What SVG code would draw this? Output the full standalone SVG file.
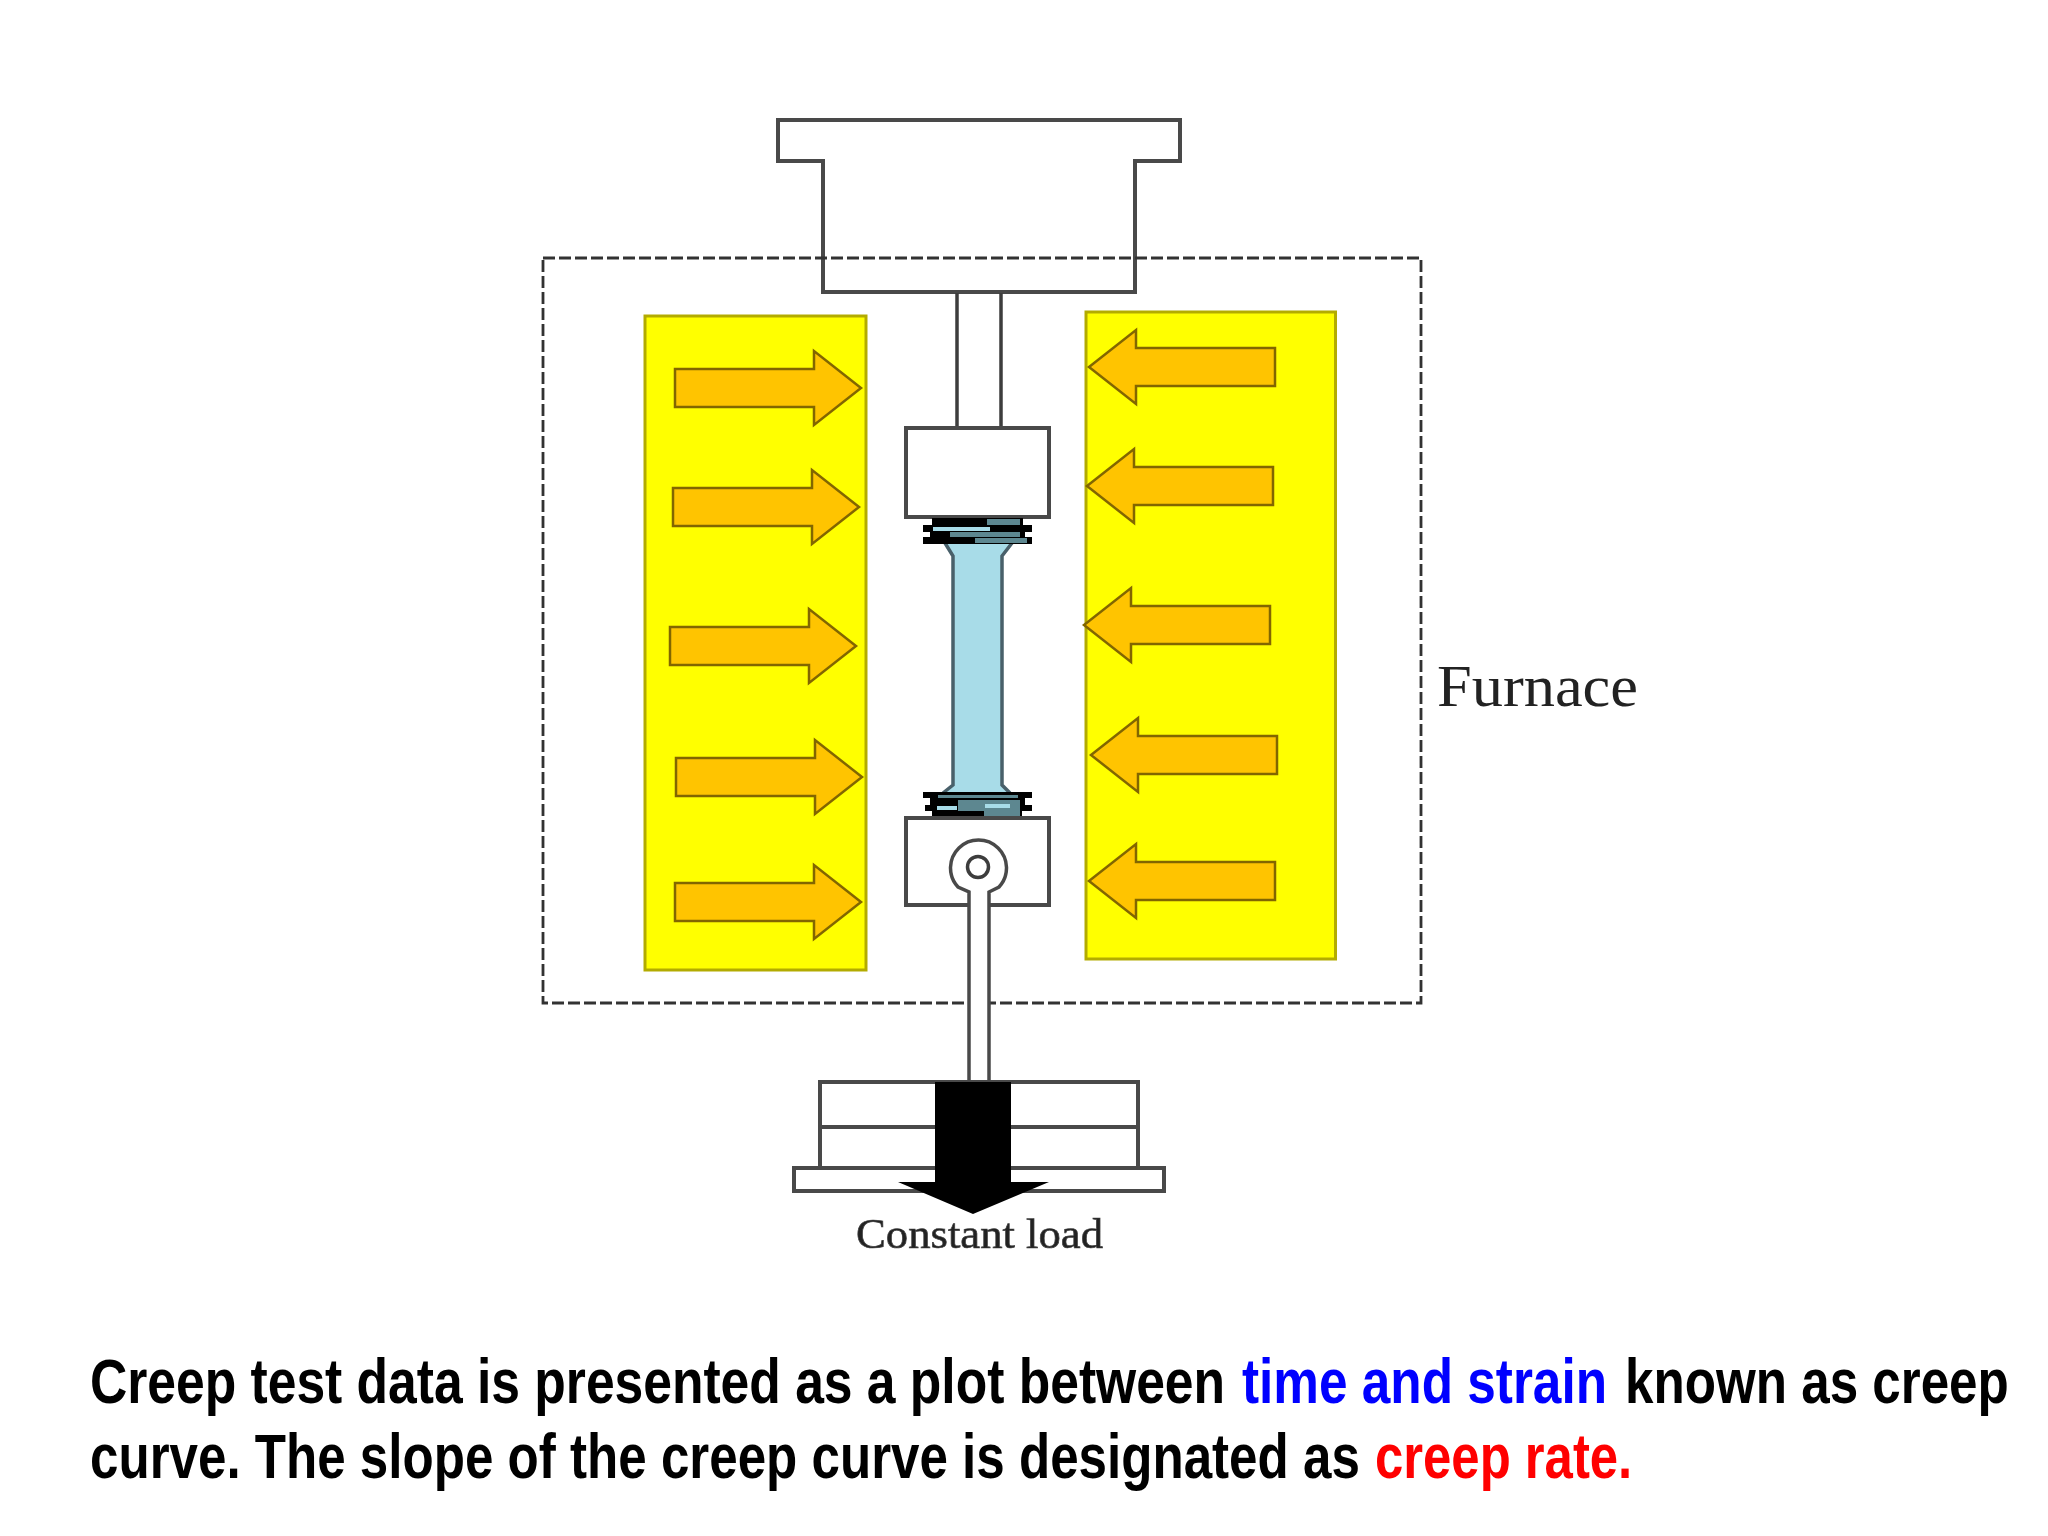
<svg xmlns="http://www.w3.org/2000/svg" width="2048" height="1536" viewBox="0 0 2048 1536">
<style>
.part{fill:#fff;stroke:#4a4a4a;stroke-width:4}
.dark{fill:none;stroke:#3c3c3c;stroke-width:3.500}
.heater{fill:#ffff00;stroke:#b3ab00;stroke-width:3}
.arrow{fill:#ffc400;stroke:#826600;stroke-width:2.500;stroke-linejoin:miter}
.serif{font-family:"Liberation Serif","Times New Roman",serif;fill:#222}
.cap{font-family:"Liberation Sans",Arial,sans-serif;font-weight:700;font-size:63px;fill:#000}
.b{fill:#000}.t{fill:#5d8790}.l{fill:#a8dce8}.d{fill:#2c3f44}
</style>
<defs>
<path id="ar" d="M0-19H139V-37L186 0 139 37V19H0Z"/>
<path id="al" d="M186-19H47V-37L0 0 47 37V19H186Z"/>
<filter id="soft" x="-5%" y="-5%" width="110%" height="110%"><feGaussianBlur stdDeviation="0.7"/></filter>
</defs>
<rect width="2048" height="1536" fill="#fff"/>
<g id="diagram" filter="url(#soft)">
<g id="heater-left">
<rect class="heater" x="645" y="316" width="221" height="654"/>
<use href="#ar" class="arrow" x="675" y="388"/>
<use href="#ar" class="arrow" x="673" y="507"/>
<use href="#ar" class="arrow" x="670" y="646"/>
<use href="#ar" class="arrow" x="676" y="777"/>
<use href="#ar" class="arrow" x="675" y="902"/>
</g>
<g id="heater-right">
<rect class="heater" x="1086" y="312" width="249.500" height="647"/>
<use href="#al" class="arrow" x="1089" y="367"/>
<use href="#al" class="arrow" x="1087" y="486"/>
<use href="#al" class="arrow" x="1084" y="625"/>
<use href="#al" class="arrow" x="1091" y="755"/>
<use href="#al" class="arrow" x="1089" y="881"/>
</g>
<g id="crosshead">
<path class="part" d="M778 120H1180V161H1135V292H823V161H778Z"/>
</g>
<g id="furnace-outline">
<rect x="543" y="258" width="878" height="745" fill="none" stroke="#333" stroke-width="2.800" stroke-dasharray="12 4"/>
</g>
<g id="upper-rod">
<path class="dark" d="M957 293V428M1001 293V428"/>
</g>
<g id="upper-grip">
<rect class="part" x="906" y="428" width="143" height="89"/>
</g>
<g id="specimen">
<path d="M945 543H1012L1002 556V785L1010 793H943L953 785V556Z" fill="#a8dce8" stroke="none"/>
<path d="M945 543L953 556V785L943 793M1012 543L1002 556V785L1010 793" fill="none" stroke="#48606a" stroke-width="3.500"/>
<g id="thread-top">
<rect class="b" x="932" y="518" width="91" height="8"/>
<rect class="t" x="987" y="519" width="33" height="6"/>
<rect class="b" x="923" y="525" width="109" height="7"/>
<rect class="l" x="933" y="527" width="57" height="4"/>
<rect class="b" x="930" y="531" width="95" height="8"/>
<rect class="t" x="950" y="532" width="70" height="6"/>
<rect class="b" x="923" y="537" width="109" height="7"/>
<rect class="t" x="975" y="538" width="52" height="5"/>
</g>
<g id="thread-bottom">
<rect class="b" x="923" y="792" width="109" height="6"/>
<rect class="t" x="938" y="795" width="80" height="4"/>
<rect class="b" x="930" y="798" width="95" height="8"/>
<rect class="b" x="925" y="805" width="107" height="6"/>
<rect class="t" x="958" y="800" width="62" height="16"/>
<rect class="l" x="937" y="806" width="20" height="4"/>
<rect class="l" x="985" y="804" width="25" height="4"/>
<rect class="b" x="932" y="811" width="90" height="8"/>
<rect class="t" x="984" y="811" width="36" height="7"/>
</g>
</g>
<g id="lower-grip">
<rect class="part" x="906" y="818" width="143" height="87"/>
</g>
<g id="lower-rod">
<path d="M969 1082V892L958 887A28 28 0 1 1 999 887L989 892V1082" fill="#fff" stroke="#4a4a4a" stroke-width="3.500"/>
<circle cx="978" cy="867" r="10.500" fill="#fff" stroke="#3c3c3c" stroke-width="3.500"/>
</g>
<g id="load">
<path class="part" d="M820 1168V1082H1138V1168M820 1127H1138"/>
<rect class="part" x="794" y="1168" width="370" height="23"/>
<path d="M935 1082H1011V1182H1049L973 1214 898 1182H935Z" fill="#000"/>
</g>
<g id="labels">
<text class="serif" x="856" y="1248" font-size="43" textLength="247" lengthAdjust="spacingAndGlyphs" stroke="#444" stroke-width="0.700">Constant load</text>
<text class="serif" x="1437" y="706" font-size="60" textLength="201" lengthAdjust="spacingAndGlyphs">Furnace</text>
</g>
</g>
<g id="caption">
<text class="cap" transform="translate(90 1403) scale(.8166 1)" textLength="1390" lengthAdjust="spacingAndGlyphs">Creep test data is presented as a plot between</text>
<text class="cap" transform="translate(1242 1403) scale(.8166 1)" textLength="447" lengthAdjust="spacingAndGlyphs" style="fill:#0000ff">time and strain</text>
<text class="cap" transform="translate(1625 1403) scale(.8166 1)" textLength="470" lengthAdjust="spacingAndGlyphs">known as creep</text>
<text class="cap" transform="translate(90 1478) scale(.8166 1)" textLength="1555" lengthAdjust="spacingAndGlyphs">curve. The slope of the creep curve is designated as</text>
<text class="cap" transform="translate(1375 1478) scale(.8166 1)" textLength="315" lengthAdjust="spacingAndGlyphs" style="fill:#ff0000">creep rate.</text>
</g>
</svg>
